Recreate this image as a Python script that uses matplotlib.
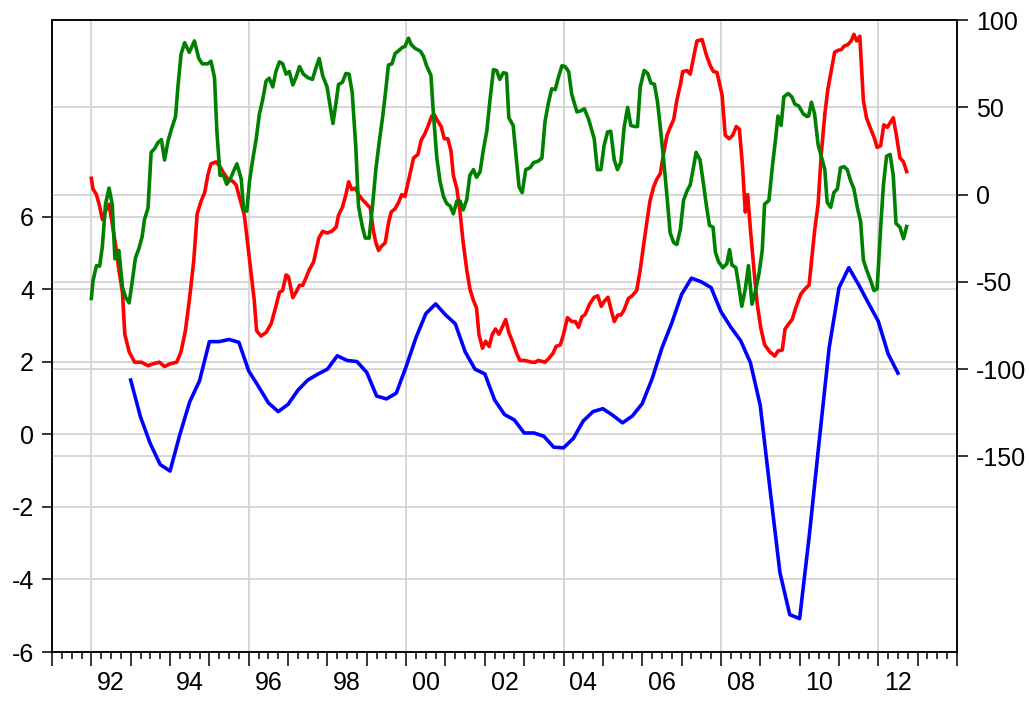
import matplotlib
matplotlib.use("Agg")
import matplotlib.pyplot as plt
import numpy as np

plt.rcParams['font.family'] = ['Liberation Sans', 'DejaVu Sans']
plt.rcParams['axes.unicode_minus'] = False

# ---------------- data ----------------
# Blue series (left axis), quarterly from 1993Q1
blue_start = 1993.0
blue = [1.50, 0.48, -0.26, -0.83,
        -1.01, 0.00, 0.90, 1.48,
        2.56, 2.56, 2.62, 2.54,
        1.75, 1.32, 0.87, 0.63,
        0.83, 1.22, 1.50, 1.66,
        1.80, 2.17, 2.04, 2.01,
        1.71, 1.06, 0.98, 1.14,
        1.87, 2.67, 3.33, 3.60,
        3.30, 3.05, 2.28, 1.80,
        1.67, 0.95, 0.55, 0.40,
        0.04, 0.04, -0.05, -0.35,
        -0.37, -0.11, 0.37, 0.63,
        0.71, 0.53, 0.32, 0.51,
        0.85, 1.53, 2.38, 3.07,
        3.86, 4.31, 4.21, 4.05,
        3.39, 2.96, 2.59, 1.98,
        0.80, -1.53, -3.81, -4.97,
        -5.08, -2.75, -0.16, 2.38,
        4.04, 4.60, 4.13, 3.62,
        3.12, 2.22, 1.69]

# Red series (right axis)
red_t = [1992.00, 1992.04, 1992.13, 1992.21, 1992.28, 1992.36, 1992.45, 1992.53, 1992.62, 1992.70,
         1992.79, 1992.85, 1992.96, 1993.10, 1993.27, 1993.44, 1993.56, 1993.73, 1993.86, 1993.99,
         1994.17, 1994.28, 1994.39, 1994.49, 1994.60, 1994.69, 1994.79, 1994.88, 1994.96, 1995.04,
         1995.17, 1995.26, 1995.34, 1995.47, 1995.59, 1995.68, 1995.76, 1995.89, 1995.97, 1996.06,
         1996.14, 1996.20, 1996.31, 1996.44, 1996.57, 1996.69, 1996.78, 1996.86, 1996.95, 1997.01,
         1997.12, 1997.20, 1997.29, 1997.37, 1997.45, 1997.54, 1997.65, 1997.78, 1997.88, 1997.99,
         1998.11, 1998.22, 1998.28, 1998.38, 1998.47, 1998.54, 1998.62, 1998.71, 1998.79, 1998.89,
         1999.00, 1999.09, 1999.17, 1999.23, 1999.30, 1999.37, 1999.47, 1999.55, 1999.62, 1999.72,
         1999.81, 1999.89, 1999.97, 2000.08, 2000.19, 2000.30, 2000.38, 2000.48, 2000.57, 2000.65,
         2000.72, 2000.78, 2000.89, 2000.97, 2001.06, 2001.14, 2001.20, 2001.29, 2001.37, 2001.45,
         2001.54, 2001.62, 2001.71, 2001.79, 2001.85, 2001.94, 2002.02, 2002.11, 2002.19, 2002.27,
         2002.36, 2002.53, 2002.61, 2002.70, 2002.81, 2002.89, 2003.02, 2003.19, 2003.28, 2003.36,
         2003.53, 2003.62, 2003.73, 2003.81, 2003.92, 2004.00, 2004.10, 2004.21, 2004.30, 2004.38,
         2004.47, 2004.55, 2004.66, 2004.78, 2004.87, 2004.96, 2005.04, 2005.13, 2005.21, 2005.29,
         2005.38, 2005.46, 2005.54, 2005.65, 2005.74, 2005.86, 2005.95, 2006.03, 2006.12, 2006.20,
         2006.29, 2006.37, 2006.46, 2006.54, 2006.63, 2006.71, 2006.80, 2006.88, 2006.97, 2007.03,
         2007.14, 2007.22, 2007.31, 2007.39, 2007.52, 2007.63, 2007.73, 2007.81, 2007.90, 2008.03,
         2008.11, 2008.21, 2008.30, 2008.39, 2008.47, 2008.55, 2008.62, 2008.68, 2008.75, 2008.84,
         2008.92, 2009.01, 2009.11, 2009.24, 2009.37, 2009.45, 2009.56, 2009.63, 2009.73, 2009.81,
         2009.90, 2010.03, 2010.14, 2010.24, 2010.30, 2010.38, 2010.47, 2010.55, 2010.64, 2010.72,
         2010.81, 2010.89, 2010.97, 2011.06, 2011.13, 2011.23, 2011.31, 2011.38, 2011.45, 2011.53,
         2011.62, 2011.70, 2011.81, 2011.89, 2011.97, 2012.06, 2012.14, 2012.23, 2012.38, 2012.46,
         2012.55, 2012.64, 2012.72]
red_v = [9.3, 3.3, 0.0, -6.6, -14.3, -9.5, -5.5, -16.5, -29.7, -43,
         -56, -80, -90, -96, -96, -98, -97, -96, -98.5, -97,
         -96, -90, -78, -60.6, -38.5, -11, -3.7, 1.1, 11, 17.6,
         18.7, 16.5, 13.2, 8.8, 7.7, 5.5, -1.1, -12, -27.5, -45,
         -60.6, -78, -81, -79, -74, -64, -56, -55, -46, -47,
         -59, -56, -52, -52, -48, -43, -38.5, -25, -21, -22,
         -21, -18.7, -12, -7.3, 0.0, 7.3, 2.9, 3.7, 0.0, -2.9,
         -5.5, -7.7, -21, -27.5, -32, -29.7, -27.5, -16.5, -10, -8.1,
         -4.4, 0.0, -1.1, 9.9, 21, 23, 31, 35, 40, 45,
         45.6, 43, 39, 32, 32, 25, 11, 3.3, -10, -27.5,
         -43, -54, -60.6, -65, -80, -88, -84, -87, -80, -77,
         -80, -71.6, -79, -84, -91, -95, -95, -96, -96, -95,
         -96, -94, -91, -87, -86, -80, -70.5, -72.7, -72.7, -76,
         -70, -68.7, -62.8, -58.8, -58, -64, -61, -58.8, -66, -72.7,
         -69, -69, -66, -59.5, -58, -55, -43, -29.7, -15.4, -3.3,
         4.4, 8.8, 12, 23, 34, 38.5, 43, 54, 63, 70.5,
         71, 69, 79, 88, 88.8, 80, 73.8, 70.5, 70, 57,
         34, 32, 34, 39, 37.4, 16, -10, 0.0, -20, -43,
         -62, -76, -86, -90, -92.5, -89.6, -89, -77, -73.8, -71.6,
         -65, -57, -54, -51.8, -38.5, -21, -5.5, 23, 46, 60.6,
         71.6, 81.5, 82.6, 83, 85, 86, 88, 91.8, 88, 90.7,
         54, 44, 37.4, 33, 27, 28, 40, 38.5, 44, 34,
         21, 18.7, 13.2]

# Green series (right axis)
green_t = [1992.00, 1992.04, 1992.13, 1992.21, 1992.28, 1992.36, 1992.45, 1992.53, 1992.60, 1992.70,
           1992.79, 1992.87, 1992.96, 1993.04, 1993.12, 1993.21, 1993.29, 1993.35, 1993.44, 1993.52,
           1993.61, 1993.69, 1993.78, 1993.86, 1993.95, 1994.05, 1994.14, 1994.20, 1994.28, 1994.37,
           1994.49, 1994.62, 1994.73, 1994.82, 1994.96, 1995.04, 1995.13, 1995.19, 1995.27, 1995.36,
           1995.44, 1995.53, 1995.61, 1995.70, 1995.81, 1995.87, 1995.95, 1996.02, 1996.10, 1996.19,
           1996.27, 1996.36, 1996.44, 1996.52, 1996.61, 1996.69, 1996.78, 1996.86, 1996.95, 1997.03,
           1997.12, 1997.20, 1997.29, 1997.39, 1997.50, 1997.62, 1997.71, 1997.79, 1997.88, 1997.99,
           1998.07, 1998.14, 1998.22, 1998.28, 1998.38, 1998.47, 1998.55, 1998.63, 1998.72, 1998.79,
           1998.88, 1998.96, 1999.06, 1999.15, 1999.23, 1999.32, 1999.40, 1999.47, 1999.55, 1999.64,
           1999.72, 1999.82, 1999.91, 1999.97, 2000.06, 2000.13, 2000.23, 2000.36, 2000.44, 2000.52,
           2000.63, 2000.69, 2000.78, 2000.86, 2000.95, 2001.03, 2001.12, 2001.20, 2001.29, 2001.37,
           2001.45, 2001.54, 2001.62, 2001.71, 2001.79, 2001.88, 2001.96, 2002.05, 2002.13, 2002.22,
           2002.30, 2002.38, 2002.47, 2002.55, 2002.61, 2002.72, 2002.78, 2002.87, 2002.95, 2003.04,
           2003.15, 2003.24, 2003.36, 2003.45, 2003.53, 2003.62, 2003.70, 2003.79, 2003.87, 2003.96,
           2004.04, 2004.13, 2004.21, 2004.34, 2004.42, 2004.53, 2004.64, 2004.78, 2004.86, 2004.95,
           2005.03, 2005.12, 2005.20, 2005.29, 2005.37, 2005.46, 2005.54, 2005.63, 2005.71, 2005.80,
           2005.88, 2005.95, 2006.05, 2006.14, 2006.22, 2006.31, 2006.39, 2006.47, 2006.54, 2006.63,
           2006.71, 2006.80, 2006.88, 2006.97, 2007.05, 2007.14, 2007.22, 2007.31, 2007.37, 2007.47,
           2007.56, 2007.64, 2007.71, 2007.80, 2007.86, 2007.94, 2008.05, 2008.15, 2008.22, 2008.28,
           2008.38, 2008.45, 2008.53, 2008.62, 2008.70, 2008.79, 2008.88, 2008.97, 2009.05, 2009.11,
           2009.22, 2009.31, 2009.39, 2009.45, 2009.53, 2009.60, 2009.71, 2009.80, 2009.88, 2009.98,
           2010.09, 2010.19, 2010.23, 2010.30, 2010.38, 2010.47, 2010.55, 2010.64, 2010.70, 2010.79,
           2010.87, 2010.96, 2011.04, 2011.13, 2011.21, 2011.30, 2011.38, 2011.47, 2011.55, 2011.62,
           2011.70, 2011.81, 2011.89, 2011.97, 2012.06, 2012.13, 2012.21, 2012.30, 2012.38, 2012.45,
           2012.55, 2012.64, 2012.72]
green_v = [-59.5, -49.6, -40.7, -41, -29.7, -5.5, 3.7, -5.5, -36.8, -32,
           -53, -58.8, -62, -49.6, -36.3, -30.8, -24.2, -14.3, -7.7, 24.2,
           26.4, 29.7, 31.5, 19.8, 30.8, 38.5, 44.7, 61.7, 80.4, 87,
           81.5, 88, 78, 74.9, 74.9, 76.4, 67, 36.3, 11, 11,
           5.9, 8.8, 13.2, 17.6, 8.8, -8.8, -9.5, 7.7, 19.8, 32,
           46, 55, 65, 66.7, 61.7, 70.5, 76, 75, 69, 70.5,
           62.8, 67, 73.3, 69, 67, 66, 72.7, 78, 68, 61.7,
           50.7, 40.7, 52.9, 63, 64.3, 69.4, 69, 58.4, 27.5, -6.6,
           -17.6, -24.9, -24.9, -5.5, 14.3, 30.8, 44, 57.3, 74.2, 74.9,
           80.8, 82.6, 84.4, 84.8, 89.6, 85.9, 83.7, 82.2, 79.3, 73.8,
           68.3, 47.4, 21, 7.7, -1.1, -5.1, -6.6, -11, -3.7, -3.7,
           -8.8, -2.9, 11, 14.3, 9.9, 13.2, 25.3, 36.3, 54, 71.6,
           71, 66, 69.8, 69.4, 44, 39.6, 25.3, 4.4, 1.1, 14.3,
           15.4, 18.3, 19.2, 20.9, 41.9, 52.9, 60.6, 60.1, 67.2, 73.8,
           73.3, 70.5, 57.3, 47.4, 47.8, 49.1, 43, 32, 14.3, 14.3,
           28, 35.9, 36.3, 19.8, 14.3, 18.7, 38.5, 50, 39.6, 39,
           39, 61.7, 71.1, 69.4, 63.9, 63.2, 52.9, 36.3, 21, -1.1,
           -22, -27.5, -28.6, -19.8, -3.3, 2.2, 5.5, 16.5, 24.2, 19.8,
           5.5, -7.7, -17.6, -18.7, -33, -38.5, -41.9, -39.6, -31.5, -40.3,
           -41.9, -51.8, -64, -54, -40.7, -62.8, -55, -45, -32, -5.5,
           -3.3, 16.5, 32, 45, 39.6, 56, 57.9, 56, 51.8, 50.7,
           46.3, 44.7, 45, 52.9, 46.3, 28.6, 22, 14.3, -4.4, -7.3,
           1.1, 3.3, 15.4, 16, 14.3, 7.7, 3.3, -7.7, -15.4, -37.4,
           -43, -49.6, -55, -54, -18.7, 5.5, 22, 23, 11, -16.5,
           -18.7, -25.3, -18.3]

left_ticks = [-6, -4, -2, 0, 2, 4, 6]
right_ticks = [-150, -100, -50, 0, 50, 100]
grid_years = [1992, 1996, 2000, 2004, 2008, 2012]
label_years = list(range(1992, 2013, 2))
x_labels = ["%02d" % (y % 100) for y in label_years]

# ---------------- figure ----------------
W, H = 1029, 704
fig = plt.figure(figsize=(W / 100, H / 100), dpi=100)
ax = fig.add_axes([52 / W, 52 / H, 905 / W, 632 / H])
axr = ax.twinx()

grid_kw = dict(color='#d4d4d4', lw=1.3, zorder=0)
for v in left_ticks:
    ax.axhline(v, **grid_kw)
for yr in grid_years:
    ax.axvline(yr, **grid_kw)
for v in right_ticks[:-1]:
    axr.axhline(v, **grid_kw)

lw = 2.6
bx = blue_start + 0.25 * np.arange(len(blue))
axr.plot(bx, blue, color='#0000ff', lw=lw, transform=ax.transData, zorder=3,
         solid_joinstyle='round')
axr.plot(red_t, red_v, color='#ff0000', lw=lw, zorder=3, solid_joinstyle='round')
axr.plot(green_t, green_v, color='#008000', lw=lw, zorder=3, solid_joinstyle='round')

ax.set_xlim(1991, 2014)
ax.set_ylim(-6, 11.43)
axr.set_ylim(-262, 100)

for a in (ax, axr):
    for s in a.spines.values():
        s.set_linewidth(1.1)
        s.set_color('black')

fs = 18
ax.set_yticks(left_ticks)
ax.set_yticklabels([str(v) for v in left_ticks])
ax.tick_params(axis='y', direction='out', length=7.5, width=1.1, labelsize=fs, pad=5.5)
axr.set_yticks(right_ticks)
axr.set_yticklabels([str(v) for v in right_ticks])
axr.tick_params(axis='y', direction='out', length=8, width=1.1, labelsize=fs, pad=5.5)

ax.set_xticks(list(range(1991, 2015)))
ax.set_xticklabels([])
ax.set_xticks(np.arange(1991, 2014.001, 0.25), minor=True)
ax.tick_params(axis='x', which='major', direction='out', length=10, width=1.1)
ax.tick_params(axis='x', which='minor', direction='out', length=5, width=1.1)

sec = ax.secondary_xaxis('bottom')
sec.set_xticks([y + 0.5 for y in label_years])
sec.set_xticklabels(x_labels)
sec.tick_params(axis='x', length=0, pad=13.5, labelsize=fs)
sec.spines['bottom'].set_visible(False)
sec.set_xticks([], minor=True)

fig.savefig('out.png', dpi=100)
